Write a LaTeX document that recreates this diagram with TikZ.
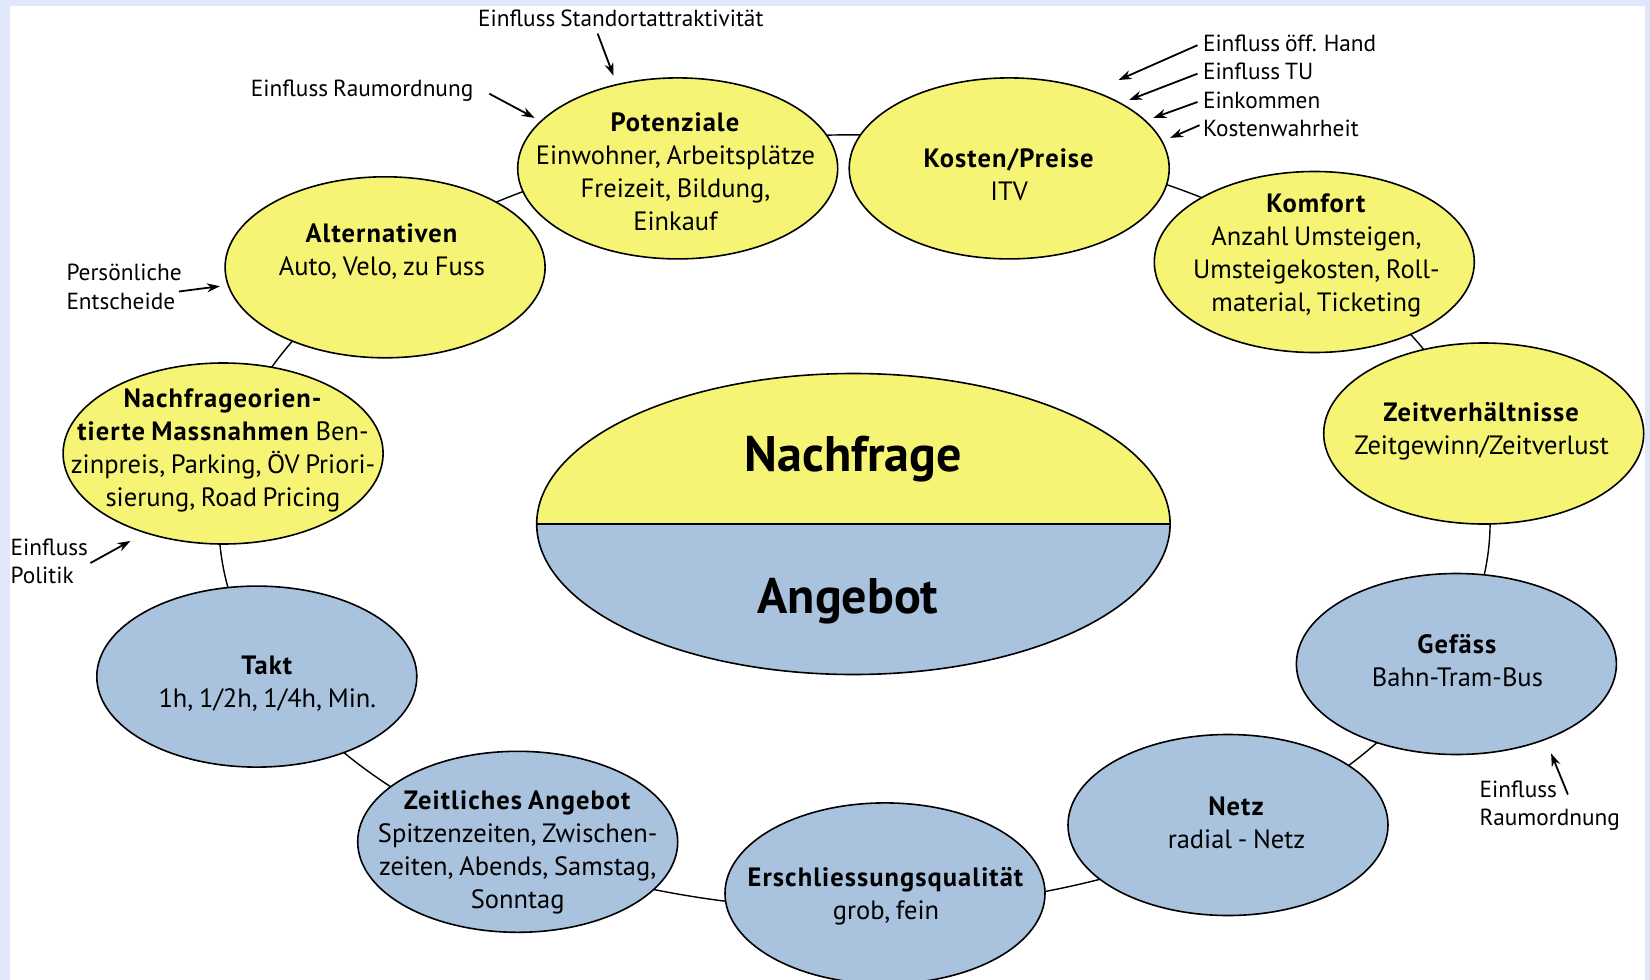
\documentclass[tikz,border=0pt]{standalone}
\usepackage{fontspec}
\setmainfont{PT Sans}[WordSpace=0.8, BoldFeatures={LetterSpace=4}]
\newfontfamily\centerfont{PT Sans}
\usetikzlibrary{shapes.geometric,arrows.meta}
\definecolor{bgl}{HTML}{E1E7FB}
\definecolor{yel}{HTML}{F6F475}
\definecolor{blu}{HTML}{A9C2DE}
\tikzset{
 oval/.style={ellipse, draw=black, line width=1.6pt, minimum width=320pt, minimum height=181pt, inner sep=0pt},
 yov/.style={oval, fill=yel},
 bov/.style={oval, fill=blu},
 body/.style={align=center, font=\fontsize{26.5}{33}\selectfont, inner sep=0pt},
 note/.style={font=\fontsize{23.3}{28.5}\selectfont, inner sep=0pt},
 infl/.style={line width=1.8pt, -{Stealth[length=13pt,width=9pt]}},
 ringline/.style={line width=1.4pt},
 big/.style={font=\fontsize{50}{60}\centerfont\bfseries, inner sep=0pt}
}
\begin{document}
\begin{tikzpicture}[x=1pt,y=-1pt]
\useasboundingbox (0,0) rectangle (1650,980);
\fill[bgl] (0,0) rectangle (1650,980);
\fill[white] (10,6) rectangle (1645,980);
% ring
\coordinate (rc) at (854.5,522);
\draw[ringline] (rc) ellipse [x radius=635.6, y radius=387.2];
% ellipses
\node[yov] (pot) at (677.7,168.4) {};
\node[yov] (kos) at (1009.2,168.4) {};
\node[yov] (alt) at (385.1,267.3) {};
\node[yov] (kom) at (1314.3,262.0) {};
\node[yov] (nom) at (223.1,453.5) {};
\node[yov] (zvh) at (1483.7,433.5) {};
\node[bov] (tak) at (256.8,676.6) {};
\node[bov] (gef) at (1456.4,664.0) {};
\node[bov] (zan) at (517.7,841.8) {};
\node[bov] (net) at (1228.0,825.0) {};
\node[bov] (ers) at (885.0,893.4) {};
% texts
\node[body] (tpot) at (675.5,171.5) {\textbf{Potenziale}\\Einwohner, Arbeitsplätze\\Freizeit, Bildung,\\Einkauf};
\node[body] (tkos) at (1009.2,175.2) {\textbf{Kosten/Preise}\\ITV};
\node[body] (talt) at (382,252) {\textbf{Alternativen}\\Auto, Velo, zu Fuss};
\node[body] (tkom) at (1316.4,255.6) {\textbf{Komfort}\\Anzahl Umsteigen,\\Umsteigekosten, Roll-\\material, Ticketing};
\node[body] (tnom) at (223,450.7) {\textbf{Nachfrageorien-}\\\textbf{tierte Massnahmen} Ben-\\zinpreis, Parking, ÖV Priori-\\sierung, Road Pricing};
\node[body] (tzvh) at (1481.6,430.8) {\textbf{Zeitverhältnisse}\\Zeitgewinn/Zeitverlust};
\node[body] (ttak) at (267.3,683.3) {\textbf{Takt}\\1h, 1/2h, 1/4h, Min.};
\node[body] (tgef) at (1457.4,660.3) {\textbf{Gefäss}\\Bahn-Tram-Bus};
\node[body] (tnet) at (1236.5,822.8) {\textbf{Netz}\\radial - Netz};
\node[body] (ters) at (886,895.9) {\textbf{Erschliessungsqualität}\\grob, fein};
\node[body] (tzan) at (517.7,852.7) {\textbf{Zeitliches Angebot}\\Spitzenzeiten, Zwischen-\\zeiten, Abends, Samstag,\\Sonntag};
% central ellipse
\begin{scope}
\clip (853.4,524) ellipse [x radius=316.7, y radius=150.5];
\fill[yel] (520,360) rectangle (1190,524);
\fill[blu] (520,524) rectangle (1190,690);
\end{scope}
\node[ellipse, draw=black, line width=1.6pt, minimum width=633.4pt, minimum height=301pt, inner sep=0pt] (core) at (853.4,524) {};
\draw[line width=1.6pt] (core.west) -- (core.east);
\node[big] (nach) at (853.4,458.8) {Nachfrage};
\node[big] (ang) at (848,600.9) {Angebot};
% annotations
\node[note] (n1) at (620.8,17.9) {Einfluss Standortattraktivität};
\coordinate (n1s) at (597.7,33.7); \coordinate (n1e) at (613.5,75.8);
\draw[infl] (n1s) -- (n1e);
\node[note, anchor=east] (n2) at (473.5,90.5) {Einfluss Raumordnung};
\coordinate (n2s) at (489.3,93.7); \coordinate (n2e) at (534.6,117.9);
\draw[infl] (n2s) -- (n2e);
\node[note, anchor=west, align=left] (n3) at (66.3,286.8) {Persönliche\\Entscheide};
\coordinate (n3s) at (178.9,291.5); \coordinate (n3e) at (219.9,286.2);
\draw[infl] (n3s) -- (n3e);
\node[note, anchor=west, align=left] (n4) at (10.5,561.4) {Einfluss\\Politik};
\coordinate (n4s) at (90.5,563); \coordinate (n4e) at (130.5,540.9);
\draw[infl] (n4s) -- (n4e);
\node[note, anchor=west] (n5) at (1202.8,43.1) {Einfluss öff. Hand};
\coordinate (n5s) at (1197.5,45.2); \coordinate (n5e) at (1118.6,80);
\draw[infl] (n5s) -- (n5e);
\node[note, anchor=west] (n6) at (1202.8,71.6) {Einfluss TU};
\coordinate (n6s) at (1197.5,73.7); \coordinate (n6e) at (1129.1,100);
\draw[infl] (n6s) -- (n6e);
\node[note, anchor=west] (n7) at (1202.8,100) {Einkommen};
\coordinate (n7s) at (1197.5,102); \coordinate (n7e) at (1153.3,117.9);
\draw[infl] (n7s) -- (n7e);
\node[note, anchor=west] (n8) at (1202.8,128.4) {Kostenwahrheit};
\coordinate (n8s) at (1199.6,125.2); \coordinate (n8e) at (1170.2,137.9);
\draw[infl] (n8s) -- (n8e);
\node[note, anchor=west, align=left] (n9) at (1479.5,805.5) {Einfluss\\Raumordnung};
\coordinate (n9s) at (1567.9,794.5); \coordinate (n9e) at (1551.1,753.4);
\draw[infl] (n9s) -- (n9e);
\end{tikzpicture}
\end{document}
